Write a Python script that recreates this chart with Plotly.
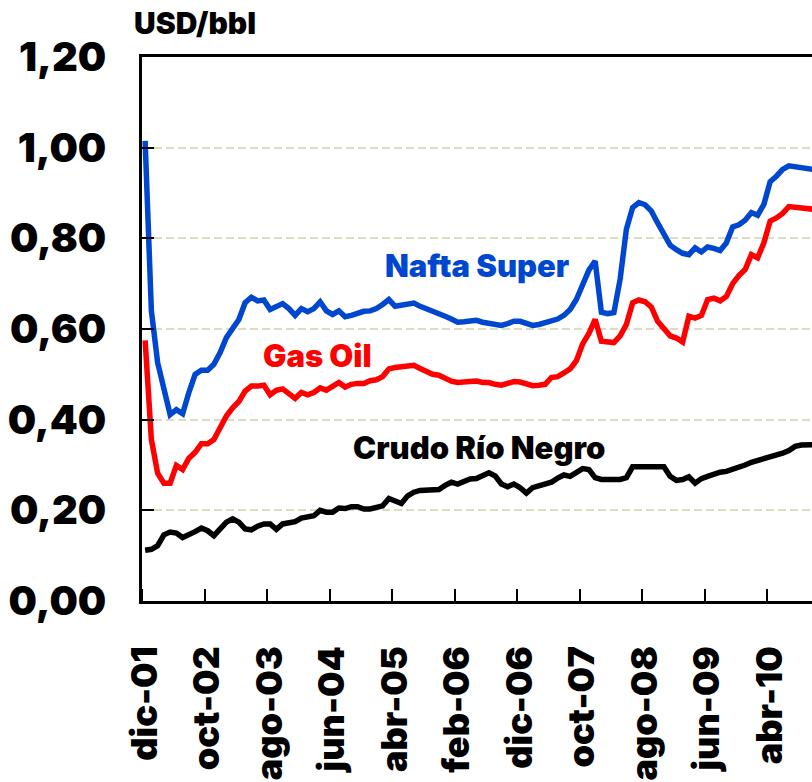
import plotly.graph_objects as go

# ---- data (USD/bbl, monthly from dic-01) ----
month_abbr = ["ene", "feb", "mar", "abr", "may", "jun", "jul", "ago", "sep", "oct", "nov", "dic"]
months = []
for k in range(108):
    m = (11 + k) % 12
    y = 2001 + (11 + k) // 12
    months.append(f"{month_abbr[m]}-{y % 100:02d}")

tick_labels = ["dic-01", "oct-02", "ago-03", "jun-04", "abr-05", "feb-06",
               "dic-06", "oct-07", "ago-08", "jun-09", "abr-10"]

nafta_super = [
    1.015, 0.640, 0.526, 0.467, 0.411, 0.422, 0.413, 0.460, 0.500, 0.509,
    0.509, 0.522, 0.548, 0.581, 0.601, 0.621, 0.658, 0.670, 0.662, 0.664,
    0.643, 0.650, 0.656, 0.645, 0.630, 0.645, 0.638, 0.645, 0.660, 0.640,
    0.632, 0.640, 0.627, 0.630, 0.635, 0.639, 0.640, 0.645, 0.654, 0.665,
    0.650, 0.652, 0.655, 0.657, 0.650, 0.645, 0.639, 0.636, 0.628, 0.622,
    0.615, 0.616, 0.618, 0.619, 0.615, 0.613, 0.610, 0.608, 0.612, 0.617,
    0.617, 0.612, 0.608, 0.610, 0.614, 0.618, 0.622, 0.630, 0.643, 0.665,
    0.700, 0.730, 0.750, 0.637, 0.634, 0.636, 0.710, 0.820, 0.868, 0.879,
    0.874, 0.860, 0.834, 0.810, 0.785, 0.775, 0.767, 0.764, 0.779, 0.770,
    0.781, 0.778, 0.773, 0.790, 0.825, 0.830, 0.840, 0.857, 0.851, 0.875,
    0.925, 0.937, 0.952, 0.960, 0.958, 0.955, 0.952, 0.952,
]

gas_oil = [
    0.575, 0.356, 0.282, 0.260, 0.260, 0.299, 0.290, 0.315, 0.328, 0.347,
    0.347, 0.356, 0.382, 0.408, 0.426, 0.440, 0.463, 0.474, 0.474, 0.476,
    0.455, 0.465, 0.468, 0.458, 0.447, 0.460, 0.455, 0.460, 0.470, 0.465,
    0.475, 0.482, 0.472, 0.478, 0.480, 0.480, 0.486, 0.488, 0.495, 0.512,
    0.515, 0.517, 0.518, 0.520, 0.513, 0.505, 0.500, 0.498, 0.490, 0.485,
    0.482, 0.483, 0.485, 0.485, 0.482, 0.482, 0.478, 0.476, 0.480, 0.484,
    0.483, 0.478, 0.475, 0.476, 0.478, 0.493, 0.495, 0.503, 0.512, 0.530,
    0.567, 0.590, 0.621, 0.573, 0.570, 0.570, 0.585, 0.610, 0.658, 0.664,
    0.660, 0.648, 0.617, 0.600, 0.585, 0.580, 0.571, 0.628, 0.624, 0.630,
    0.665, 0.668, 0.662, 0.672, 0.700, 0.718, 0.731, 0.764, 0.757, 0.790,
    0.838, 0.845, 0.855, 0.870, 0.868, 0.866, 0.864, 0.864,
]

crudo_rio_negro = [
    0.112, 0.114, 0.122, 0.146, 0.152, 0.150, 0.140, 0.145, 0.153, 0.161,
    0.155, 0.144, 0.160, 0.174, 0.181, 0.174, 0.159, 0.157, 0.165, 0.170,
    0.170, 0.158, 0.170, 0.172, 0.175, 0.183, 0.186, 0.188, 0.200, 0.196,
    0.196, 0.205, 0.204, 0.208, 0.208, 0.203, 0.203, 0.205, 0.210, 0.226,
    0.222, 0.215, 0.232, 0.240, 0.244, 0.245, 0.246, 0.246, 0.255, 0.262,
    0.258, 0.265, 0.269, 0.270, 0.276, 0.283, 0.276, 0.258, 0.252, 0.258,
    0.250, 0.238, 0.250, 0.253, 0.258, 0.262, 0.271, 0.278, 0.275, 0.285,
    0.292, 0.290, 0.272, 0.268, 0.268, 0.267, 0.268, 0.272, 0.296, 0.296,
    0.296, 0.296, 0.296, 0.296, 0.275, 0.266, 0.268, 0.274, 0.260, 0.270,
    0.275, 0.280, 0.284, 0.286, 0.290, 0.294, 0.300, 0.306, 0.310, 0.315,
    0.319, 0.320, 0.326, 0.332, 0.341, 0.344, 0.345, 0.345,
]

series_names = ["Nafta Super", "Gas Oil", "Crudo Río Negro"]
series_colors = ["#0047CF", "#FF0000", "#000000"]

FONT = "Inter, Lato, Roboto, sans-serif"

x_idx = list(range(len(months)))
fig = go.Figure()
for name, vals, col in zip(series_names, [nafta_super, gas_oil, crudo_rio_negro], series_colors):
    fig.add_trace(go.Scatter(x=x_idx[:len(vals)], y=vals, mode="lines", name=name,
                             line=dict(color=col, width=5.5), showlegend=False))

tick_pos = [months.index(t) for t in tick_labels]

fig.update_layout(
    width=812, height=782,
    margin=dict(l=142, r=0, t=57, b=181, pad=0),
    plot_bgcolor="white", paper_bgcolor="white",
    separators=",.",
    font=dict(family=FONT, color="black"),
)

fig.update_xaxes(
    range=[-0.5, 106.7], automargin=False,
    tickmode="array", tickvals=tick_pos, ticktext=tick_labels,
    tickangle=-90, ticks="",
    tickfont=dict(family=FONT, size=36, weight=900, color="black"),
    ticklabelstandoff=28,
    showgrid=False, zeroline=False,
    showline=True, linecolor="black", linewidth=2.5, mirror=True,
    minor=dict(tickmode="array", tickvals=[p - 0.5 for p in tick_pos],
               ticks="inside", ticklen=12, tickwidth=2, tickcolor="black", showgrid=False),
)

fig.update_yaxes(
    range=[0, 1.2], dtick=0.2, tick0=0, tickformat=".2f", automargin=False,
    ticks="inside", ticklen=12, tickwidth=2, tickcolor="black",
    tickfont=dict(family=FONT, size=40, weight=900, color="black"),
    ticklabelstandoff=25,
    showgrid=True, gridcolor="#DCDCC0", gridwidth=2, griddash="8px,4px",
    zeroline=False,
    showline=True, linecolor="black", linewidth=2.5, mirror=False,
)

label_font = dict(family=FONT, size=31, weight=900)
fig.add_annotation(x=38.0, y=0.740, xref="x", yref="y", text="Nafta Super",
                   showarrow=False, xanchor="left", yanchor="middle",
                   font=dict(label_font, color=series_colors[0]))
fig.add_annotation(x=18.6, y=0.5426, xref="x", yref="y", text="Gas Oil",
                   showarrow=False, xanchor="left", yanchor="middle",
                   font=dict(label_font, color=series_colors[1]))
fig.add_annotation(x=33.0, y=0.3395, xref="x", yref="y", text="Crudo Río Negro",
                   showarrow=False, xanchor="left", yanchor="middle",
                   font=dict(label_font, color=series_colors[2]))
fig.add_annotation(x=-0.0142, y=1.0616, xref="paper", yref="paper", text="USD/bbl",
                   showarrow=False, xanchor="left", yanchor="middle",
                   font=dict(family=FONT, size=30, weight=900, color="black"))

fig.write_html(
    "out.html",
    config={"displayModeBar": False},
    post_script="document.body.style.margin='0';document.body.style.overflow='hidden';",
)
